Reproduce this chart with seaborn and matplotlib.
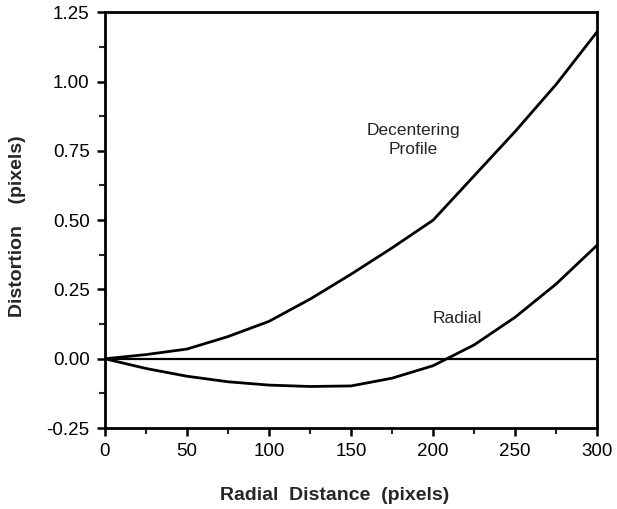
import matplotlib
matplotlib.use("Agg")
import matplotlib.pyplot as plt
import seaborn as sns
import pandas as pd
from matplotlib.ticker import MultipleLocator

radial_distance = [0, 25, 50, 75, 100, 125, 150, 175, 200, 225, 250, 275, 300]
decentering = [0, 0.015, 0.035, 0.08, 0.135, 0.215, 0.305, 0.40, 0.50, 0.66, 0.82, 0.99, 1.18]
radial = [0, -0.035, -0.063, -0.083, -0.095, -0.1, -0.098, -0.07, -0.025, 0.05, 0.15, 0.27, 0.41]

df = pd.DataFrame({
    "x": radial_distance * 2,
    "y": decentering + radial,
    "series": ["Decentering Profile"] * len(radial_distance) + ["Radial"] * len(radial_distance),
})

sns.set_theme(style="ticks")
plt.rcParams["font.family"] = ["Liberation Sans", "DejaVu Sans"]

fig = plt.figure(figsize=(6.17, 5.09), dpi=100)
ax = fig.add_axes([0.170, 0.159, 0.798, 0.817])

sns.lineplot(data=df, x="x", y="y", units="series", estimator=None,
             color="black", linewidth=2.0, ax=ax, legend=False)
ax.axhline(0, color="black", linewidth=1.6)

ax.set_xlim(0, 300)
ax.set_ylim(-0.25, 1.25)
ax.xaxis.set_major_locator(MultipleLocator(50))
ax.xaxis.set_minor_locator(MultipleLocator(25))
ax.yaxis.set_major_locator(MultipleLocator(0.25))
ax.yaxis.set_minor_locator(MultipleLocator(0.125))
ax.yaxis.set_major_formatter(matplotlib.ticker.FormatStrFormatter("%.2f"))

for s in ax.spines.values():
    s.set_linewidth(2.0)
    s.set_color("black")
ax.tick_params(which="major", direction="out", length=6, width=1.8, labelsize=13.5,
               colors="black", pad=5)
ax.tick_params(which="minor", direction="out", length=4, width=1.5)

ax.set_xlabel("Radial  Distance  (pixels)", fontsize=14, fontweight="bold", va="center")
ax.set_ylabel("Distortion    (pixels)", fontsize=14, fontweight="bold", va="center")
ax.xaxis.set_label_coords(0.467, -0.161)
ax.yaxis.set_label_coords(-0.177, 0.486)

ax.text(188, 0.79, "Decentering\nProfile", ha="center", va="center", fontsize=12.5, linespacing=1.3)
ax.text(215, 0.147, "Radial", ha="center", va="center", fontsize=12.5)

fig.savefig("out.png", dpi=100)
